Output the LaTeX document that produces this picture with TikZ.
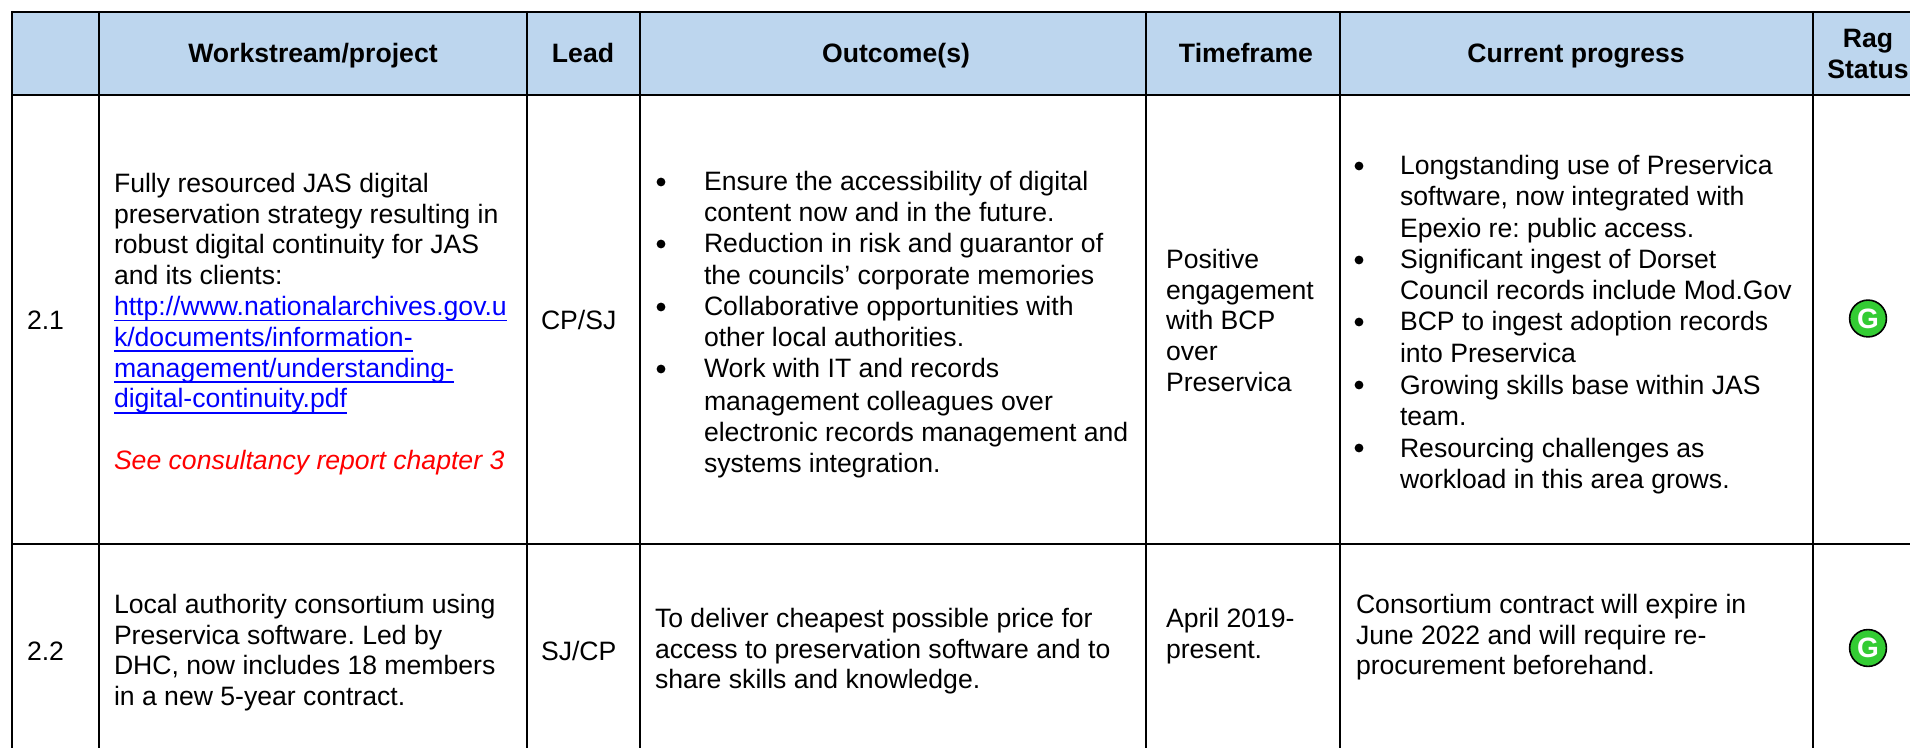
\documentclass[tikz,border=0pt]{standalone}
\usepackage{fontspec}
\setmainfont{Liberation Sans}
\frenchspacing
\definecolor{hdr}{HTML}{BDD6EE}
\definecolor{ragg}{HTML}{33CC33}
\definecolor{lnk}{HTML}{0000FF}
\newcommand{\lk}[1]{\setbox0=\hbox{#1}\rlap{\rule[-3pt]{\wd0}{0.9pt}}\box0}
\tikzset{
 x=0.5pt,y=-0.5pt,
 cellline/.style={line width=1.35pt,black},
 body/.style={inner sep=0pt,outer sep=0pt,anchor=base west,font=\fontsize{13.3}{15.4}\selectfont,align=left},
 block/.style={body,anchor=north west},
 head/.style={inner sep=0pt,outer sep=0pt,anchor=base,font=\fontsize{13.3}{15.4}\selectfont\bfseries},
 headtwo/.style={inner sep=0pt,outer sep=0pt,anchor=center,align=center,font=\fontsize{13.3}{15.4}\selectfont\bfseries},
 bul/.style={circle,fill=black,inner sep=0pt,minimum size=4.4pt},
 rag/.style={circle,draw=black,line width=0.8pt,fill=ragg,minimum size=18.4pt,inner sep=0pt,text=white,font=\fontsize{14}{14}\selectfont\bfseries},
}
\begin{document}
\begin{tikzpicture}
\useasboundingbox (0,0) rectangle (1910,748);
\fill[hdr] (12,12) rectangle (1910,95);
\foreach \xx in {12,99,527,640,1146,1340,1813}{\draw[cellline] (\xx,11) -- (\xx,748);}
\foreach \yy in {12,95,544}{\draw[cellline] (11,\yy) -- (1910,\yy);}
% header
\node[head] (h2) at (313,63) {Workstream/project};
\node[head] (h3) at (583,63) {Lead};
\node[head] (h4) at (896,63) {Outcome(s)};
\node[head] (h5) at (1246,63) {Timeframe};
\node[head] (h6) at (1576,63) {Current progress};
\node[headtwo] (h7) at (1868,54) {Rag\\Status};
% row 2.1
\node[body] (n21) at (27,330) {2.1};
\node[block] (w21) at (114,173) {Fully resourced JAS digital\\preservation strategy resulting in\\robust digital continuity for JAS\\and its clients:\\\textcolor{lnk}{\lk{http://www.nationalarchives.gov.u}}\\\textcolor{lnk}{\lk{k/documents/information-}}\\\textcolor{lnk}{\lk{management/understanding-}}\\\textcolor{lnk}{\lk{digital-continuity.pdf}}\\[15.4pt]\textcolor{red}{\itshape See consultancy report chapter 3}};
\node[body] (l21) at (541,330) {CP/SJ};
\foreach \yy/\tt in {191/{Ensure the accessibility of digital},222/{content now and in the future.},253/{Reduction in risk and guarantor of},285/{the councils’ corporate memories},316/{Collaborative opportunities with},347/{other local authorities.},378/{Work with IT and records},410/{management colleagues over},441/{electronic records management and},472/{systems integration.}}{\node[body] at (704,\yy) {\tt};}
\node[bul] (b1) at (661,182) {};
\node[bul] (b2) at (661,244) {};
\node[bul] (b3) at (661,307) {};
\node[bul] (b4) at (661,369) {};
\node[block] (t21) at (1166,249) {Positive\\engagement\\with BCP\\over\\Preservica};
\foreach \yy/\tt in {175/{Longstanding use of Preservica},206/{software, now integrated with},238/{Epexio re: public access.},269/{Significant ingest of Dorset},300/{Council records include Mod.Gov},331/{BCP to ingest adoption records},363/{into Preservica},394/{Growing skills base within JAS},425/{team.},457/{Resourcing challenges as},488/{workload in this area grows.}}{\node[body] at (1400,\yy) {\tt};}
\node[bul] (p1) at (1359,166) {};
\node[bul] (p2) at (1359,260) {};
\node[bul] (p3) at (1359,322) {};
\node[bul] (p4) at (1359,385) {};
\node[bul] (p5) at (1359,448) {};
\node[rag] (g1) at (1868,318.5) {G};
% row 2.2
\node[body] (n22) at (27,660) {2.2};
\node[block] (w22) at (114,594) {Local authority consortium using\\Preservica software. Led by\\DHC, now includes 18 members\\in a new 5-year contract.};
\node[body] (l22) at (541,660) {SJ/CP};
\node[block] (o22) at (655,608) {To deliver cheapest possible price for\\access to preservation software and to\\share skills and knowledge.};
\node[block] (t22) at (1166,608) {April 2019-\\present.};
\node[block] (c22) at (1356,594) {Consortium contract will expire in\\June 2022 and will require re-\\procurement beforehand.};
\node[rag] (g2) at (1868,648) {G};
\end{tikzpicture}
\end{document}
